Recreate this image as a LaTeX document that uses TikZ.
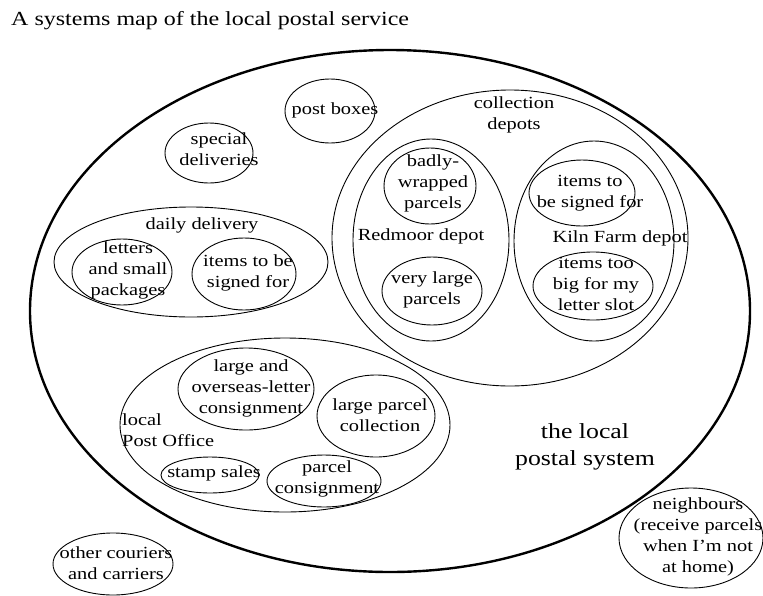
\documentclass[tikz,border=0pt]{standalone}
\usepackage{fontspec}
\setmainfont[FakeStretch=1.2]{Liberation Serif}
\usetikzlibrary{shapes.geometric}
\newcommand{\mapfont}{\fontsize{17}{21}\selectfont}
\newcommand{\bigmapfont}{\fontsize{21.5}{27}\selectfont}
\newcommand{\titlefont}{\fontsize{20}{24}\selectfont}
\tikzset{
  blob/.style={draw, ellipse, inner sep=0pt, line width=0.9pt},
  world/.style={blob, line width=2.4pt},
  txt/.style={align=center, inner sep=0pt, font=\mapfont},
}

\begin{document}
\begin{tikzpicture}[x=1pt,y=-1pt]
\useasboundingbox (0,0) rectangle (763,595);
\node[anchor=base west, inner sep=0pt, font=\titlefont] (title) at (11,25) {A systems map of the local postal service};
\node[world, minimum width=720, minimum height=522] (system) at (390,311) {};
\node[txt, font=\bigmapfont] (system-t) at (585,447) {the local\\postal system};
\node[blob, minimum width=90, minimum height=64] (boxes) at (330,111) {};
\node[txt] (boxes-t) at (335,110) {post boxes};
\node[blob, minimum width=88, minimum height=60] (special) at (209,153) {};
\node[txt] (special-t) at (219,149) {special\\deliveries};
\node[blob, minimum width=274, minimum height=110] (daily) at (191,262) {};
\node[txt] (daily-t) at (202,225) {daily delivery};
\node[blob, minimum width=100, minimum height=66] (letters) at (122,272) {};
\node[txt] (letters-t) at (128,270) {letters\\and small\\packages};
\node[blob, minimum width=104, minimum height=72] (signed) at (244,274) {};
\node[txt] (signed-t) at (248,273) {items to be\\signed for};
\node[blob, minimum width=356, minimum height=296] (depots) at (510,238) {};
\node[txt] (depots-t) at (514,115) {collection\\depots};
\node[blob, minimum width=156, minimum height=202] (redmoor) at (431,240) {};
\node[txt] (redmoor-t) at (421,236) {Redmoor depot};
\node[blob, minimum width=92, minimum height=76] (badly) at (430,186) {};
\node[txt] (badly-t) at (433,183) {badly-\\wrapped\\parcels};
\node[blob, minimum width=100, minimum height=68] (verylarge) at (432,291) {};
\node[txt] (verylarge-t) at (432,290) {very large\\parcels};
\node[blob, minimum width=160, minimum height=200] (kiln) at (594,241) {};
\node[txt] (kiln-t) at (620,238) {Kiln Farm depot};
\node[blob, minimum width=106, minimum height=66] (kilnsigned) at (582,193) {};
\node[txt] (kilnsigned-t) at (590,193) {items to\\be signed for};
\node[blob, minimum width=120, minimum height=68] (toobig) at (593,286) {};
\node[txt] (toobig-t) at (596,284) {items too\\big for my\\letter slot};
\node[blob, minimum width=330, minimum height=174] (office) at (285,425) {};
\node[txt, align=left, anchor=west] (office-t) at (122,430) {local\\Post Office};
\node[blob, minimum width=136, minimum height=82] (overseas) at (246,389) {};
\node[txt] (overseas-t) at (251,388) {large and\\overseas-letter\\consignment};
\node[blob, minimum width=118, minimum height=82] (collection) at (376,416) {};
\node[txt] (collection-t) at (380,415) {large parcel\\collection};
\node[blob, minimum width=98, minimum height=36] (stamps) at (210,475) {};
\node[txt] (stamps-t) at (214,473) {stamp sales};
\node[blob, minimum width=114, minimum height=52] (consign) at (324,481) {};
\node[txt] (consign-t) at (327,479) {parcel\\consignment};
\node[blob, minimum width=120, minimum height=62] (couriers) at (113,564) {};
\node[txt] (couriers-t) at (116,563) {other couriers\\and carriers};
\node[blob, minimum width=144, minimum height=100] (neighbours) at (691,538) {};
\node[txt] (neighbours-t) at (698,537) {neighbours\\(receive parcels\\when I'm not\\at home)};
\end{tikzpicture}
\end{document}
